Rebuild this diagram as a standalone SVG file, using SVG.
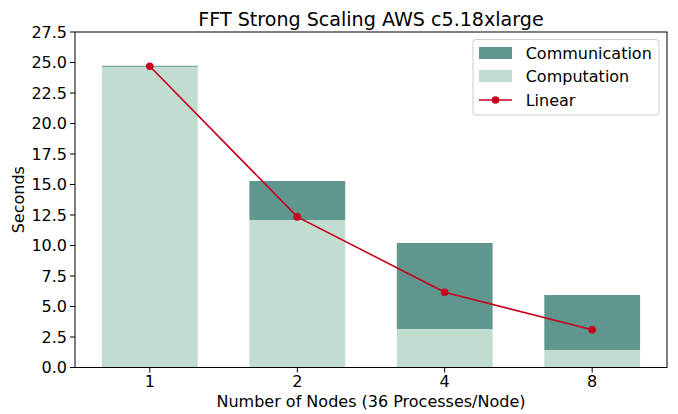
<svg xmlns="http://www.w3.org/2000/svg" width="678" height="414" viewBox="0 0 678 414">
<style>
text{font-family:"DejaVu Sans",sans-serif;fill:#000}
.yt{font-size:16px;text-anchor:end}
.xt{font-size:16px;text-anchor:middle}
.lab{font-size:16px;text-anchor:middle}
.leg{font-size:16px}
.comm{fill:#5f968e}
.comp{fill:#c0ddd0}
.tick{stroke:#000;stroke-width:1}
.lin{stroke:#c8001e;stroke-width:1.6;fill:none}
.dot{fill:#c8001e}
</style>
<rect width="678" height="414" fill="#fff"/>
<g id="bars">
<g id="bar1"><rect class="comp" x="101.9" y="66.6" width="95.8" height="300.9"/><rect class="comm" x="101.9" y="65.8" width="95.8" height="1"/></g>
<g id="bar2"><rect class="comp" x="249.4" y="220" width="95.8" height="147.5"/><rect class="comm" x="249.4" y="181" width="95.8" height="39"/></g>
<g id="bar4"><rect class="comp" x="396.8" y="329" width="95.8" height="38.5"/><rect class="comm" x="396.8" y="243" width="95.8" height="86"/></g>
<g id="bar8"><rect class="comp" x="544.3" y="350" width="95.8" height="17.5"/><rect class="comm" x="544.3" y="295" width="95.8" height="55"/></g>
</g>
<g id="connectors">
<polyline class="lin" points="149.8,66.3 297.3,216.9 444.7,292.2 592.2,329.8"/>
<circle class="dot" cx="149.8" cy="66.3" r="3.8"/>
<circle class="dot" cx="297.3" cy="216.9" r="3.8"/>
<circle class="dot" cx="444.7" cy="292.2" r="3.8"/>
<circle class="dot" cx="592.2" cy="329.8" r="3.8"/>
</g>
<g id="axes">
<rect x="75" y="32" width="592" height="335.5" fill="none" stroke="#000" stroke-width="1"/>
<g class="tick">
<line x1="70" y1="367.5" x2="75" y2="367.5"/><line x1="70" y1="337" x2="75" y2="337"/><line x1="70" y1="306.5" x2="75" y2="306.5"/><line x1="70" y1="276" x2="75" y2="276"/><line x1="70" y1="245.5" x2="75" y2="245.5"/><line x1="70" y1="215" x2="75" y2="215"/><line x1="70" y1="184.5" x2="75" y2="184.5"/><line x1="70" y1="154" x2="75" y2="154"/><line x1="70" y1="123.5" x2="75" y2="123.5"/><line x1="70" y1="93" x2="75" y2="93"/><line x1="70" y1="62.5" x2="75" y2="62.5"/><line x1="70" y1="32" x2="75" y2="32"/>
<line x1="149.8" y1="367.5" x2="149.8" y2="372.5"/><line x1="297.3" y1="367.5" x2="297.3" y2="372.5"/><line x1="444.7" y1="367.5" x2="444.7" y2="372.5"/><line x1="592.2" y1="367.5" x2="592.2" y2="372.5"/>
</g>
<text class="yt" x="67" y="373.3">0.0</text>
<text class="yt" x="67" y="342.8">2.5</text>
<text class="yt" x="67" y="312.3">5.0</text>
<text class="yt" x="67" y="281.8">7.5</text>
<text class="yt" x="67" y="251.3">10.0</text>
<text class="yt" x="67" y="220.8">12.5</text>
<text class="yt" x="67" y="190.3">15.0</text>
<text class="yt" x="67" y="159.8">17.5</text>
<text class="yt" x="67" y="129.3">20.0</text>
<text class="yt" x="67" y="98.8">22.5</text>
<text class="yt" x="67" y="68.3">25.0</text>
<text class="yt" x="67" y="37.8">27.5</text>
<text class="xt" x="149.8" y="387">1</text>
<text class="xt" x="297.3" y="387">2</text>
<text class="xt" x="444.7" y="387">4</text>
<text class="xt" x="592.2" y="387">8</text>
<text class="lab" x="371" y="407">Number of Nodes (36 Processes/Node)</text>
<text class="lab" transform="translate(24,199.7) rotate(-90)">Seconds</text>
<text x="371" y="26" style="font-size:19.1px;text-anchor:middle">FFT Strong Scaling AWS c5.18xlarge</text>
</g>
<g id="legend">
<rect x="473" y="39.5" width="186" height="75.5" rx="3" fill="#fff" fill-opacity="0.8" stroke="#cccccc" stroke-width="1"/>
<rect class="comm" x="479" y="47" width="33" height="12"/>
<rect class="comp" x="479" y="70" width="33" height="12"/>
<line class="lin" x1="479" y1="100" x2="512" y2="100"/>
<circle class="dot" cx="495.5" cy="100" r="3.8"/>
<text class="leg" x="525.7" y="58.5">Communication</text>
<text class="leg" x="525.7" y="82">Computation</text>
<text class="leg" x="525.7" y="105.5">Linear</text>
</g>
</svg>
